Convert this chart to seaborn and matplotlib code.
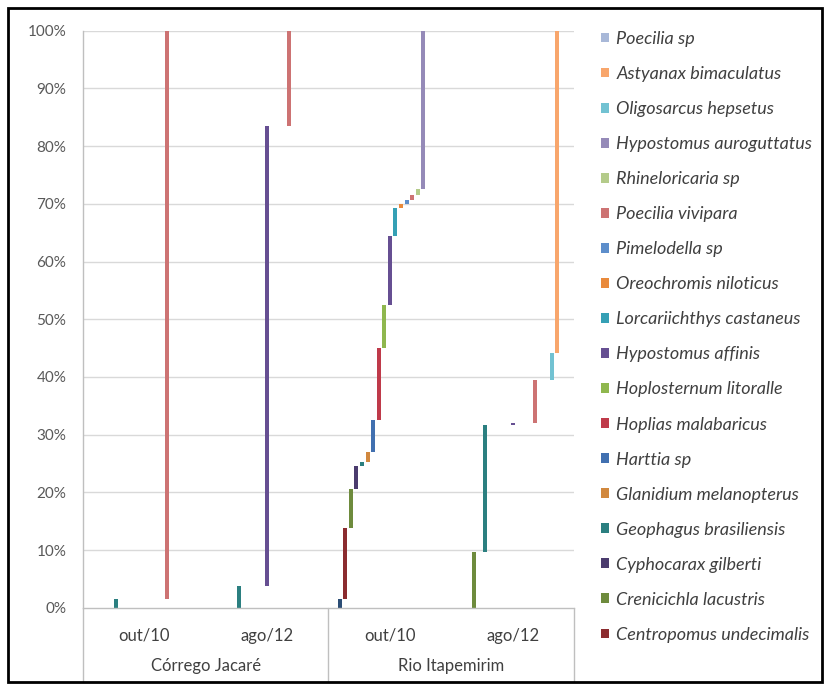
import numpy as np
import pandas as pd
import matplotlib
matplotlib.use('Agg')
import matplotlib.pyplot as plt
import matplotlib.transforms as mtransforms
from matplotlib.patches import Patch, Rectangle
import seaborn as sns

# Series in stacking order (bottom -> top). The first one has no legend entry.
species = ['(sem legenda)', 'Centropomus undecimalis', 'Crenicichla lacustris',
           'Cyphocarax gilberti', 'Geophagus brasiliensis', 'Glanidium melanopterus',
           'Harttia sp', 'Hoplias malabaricus', 'Hoplosternum litoralle',
           'Hypostomus affinis', 'Lorcariichthys castaneus', 'Oreochromis niloticus',
           'Pimelodella sp', 'Poecilia vivipara', 'Rhineloricaria sp',
           'Hypostomus auroguttatus', 'Oligosarcus hepsetus', 'Astyanax bimaculatus',
           'Poecilia sp']
colors = ['#2C4D75', '#8B2C2F', '#6E8B3D', '#4B3C6E', '#2B7F80', '#D1883E',
          '#4170B0', '#BF3A4A', '#8FB74E', '#664F92', '#35A0B5', '#E98A3C',
          '#5D8ECB', '#CD7373', '#B4CB8A', '#958AB8', '#72C2D2', '#F8A66C',
          '#A8B8D8']

sites = ['Córrego Jacaré', 'Rio Itapemirim']
dates = ['out/10', 'ago/12']

# percentage of each species per site/date (same order as `species`)
cj_out10 = [0, 0, 0, 0, 1.5, 0, 0, 0, 0, 0, 0, 0, 0, 98.5, 0, 0, 0, 0, 0]
cj_ago12 = [0, 0, 0, 0, 3.7, 0, 0, 0, 0, 79.8, 0, 0, 0, 16.5, 0, 0, 0, 0, 0]
ri_out10 = [1.5, 12.3, 6.7, 4.1, 0.7, 1.7, 5.6, 12.4, 7.4, 12.0, 4.9, 0.7, 0.7,
            0.8, 1.0, 27.5, 0, 0, 0]
ri_ago12 = [0, 0, 9.7, 0, 22.0, 0, 0, 0, 0, 0.3, 0, 0, 0, 7.5, 0, 0, 4.6, 55.9, 0]

rows = []
for (site, date), vals in zip([(s, d) for s in sites for d in dates],
                              [cj_out10, cj_ago12, ri_out10, ri_ago12]):
    for sp, v in zip(species, vals):
        rows.append({'site': site, 'date': date, 'species': sp, 'value': v})
df = pd.DataFrame(rows)
df['top'] = df.groupby(['site', 'date'])['value'].cumsum()
df['bottom'] = df['top'] - df['value']
df['group'] = df.groupby(['site', 'date'], sort=False).ngroup()
df['slot'] = df.groupby(['site', 'date']).cumcount()

slots_per_group = 22
df['x'] = df['group'] * slots_per_group + 2 + df['slot']

sns.set_style('white')
plt.rcParams['font.family'] = ['Lato', 'DejaVu Sans']
palette = dict(zip(species, sns.color_palette(colors)))

W, H = 826, 686
fig = plt.figure(figsize=(W / 100, H / 100), dpi=100)
ax = fig.add_axes([83 / W, 78.3 / H, 491 / W, 577 / H])

# grid
for p in range(10, 101, 10):
    ax.axhline(p, color='#D9D9D9', lw=1, zorder=0)

d = df[df['value'] > 0]
ax.bar(d['x'], d['value'], bottom=d['bottom'], width=0.72,
       color=[palette[s] for s in d['species']], linewidth=0, zorder=2)

ax.set_xlim(0, slots_per_group * 4)
ax.set_ylim(0, 100)
ax.set_yticks(range(0, 101, 10))
ax.set_yticklabels([f'{p}%' for p in range(0, 101, 10)], color='#595959', fontsize=11)
ax.tick_params(axis='y', length=0, pad=12)
ax.set_xticks([])
for s in ['top', 'right']:
    ax.spines[s].set_visible(False)
for s in ['left', 'bottom']:
    ax.spines[s].set_color('#BFBFBF')
    ax.spines[s].set_linewidth(1)

# multi-level category labels
trans = mtransforms.blended_transform_factory(ax.transData, ax.transAxes)
for g in range(4):
    ax.text(g * slots_per_group + slots_per_group / 2, -0.049, dates[g % 2],
            transform=trans, ha='center', va='center', fontsize=12, color='#404040')
for i, site in enumerate(sites):
    ax.text((2 * i + 1) * slots_per_group, -0.101, site, transform=trans,
            ha='center', va='center', fontsize=12, color='#404040')
for xv in [0, 2 * slots_per_group, 4 * slots_per_group]:
    ax.plot([xv, xv], [0, -0.129], transform=trans, color='#BFBFBF', lw=1,
            clip_on=False)

# legend (reversed, hidden first series)
handles = [Patch(facecolor=palette[s], edgecolor='none') for s in species[1:]][::-1]
labels = species[1:][::-1]
fig.legend(handles, labels, loc='upper left', bbox_to_anchor=(601 / W, 655 / H),
           frameon=False, prop={'style': 'italic', 'size': 13},
           labelcolor='#404040', handlelength=0.45, handleheight=0.45,
           handletextpad=0.4, labelspacing=1.055, borderpad=0, borderaxespad=0)

# outer frame
fig.patches.append(Rectangle((8 / W, 4 / H), 814 / W, 674 / H, transform=fig.transFigure,
                             fill=False, edgecolor='black', lw=2))

fig.savefig('out.png', dpi=100)
